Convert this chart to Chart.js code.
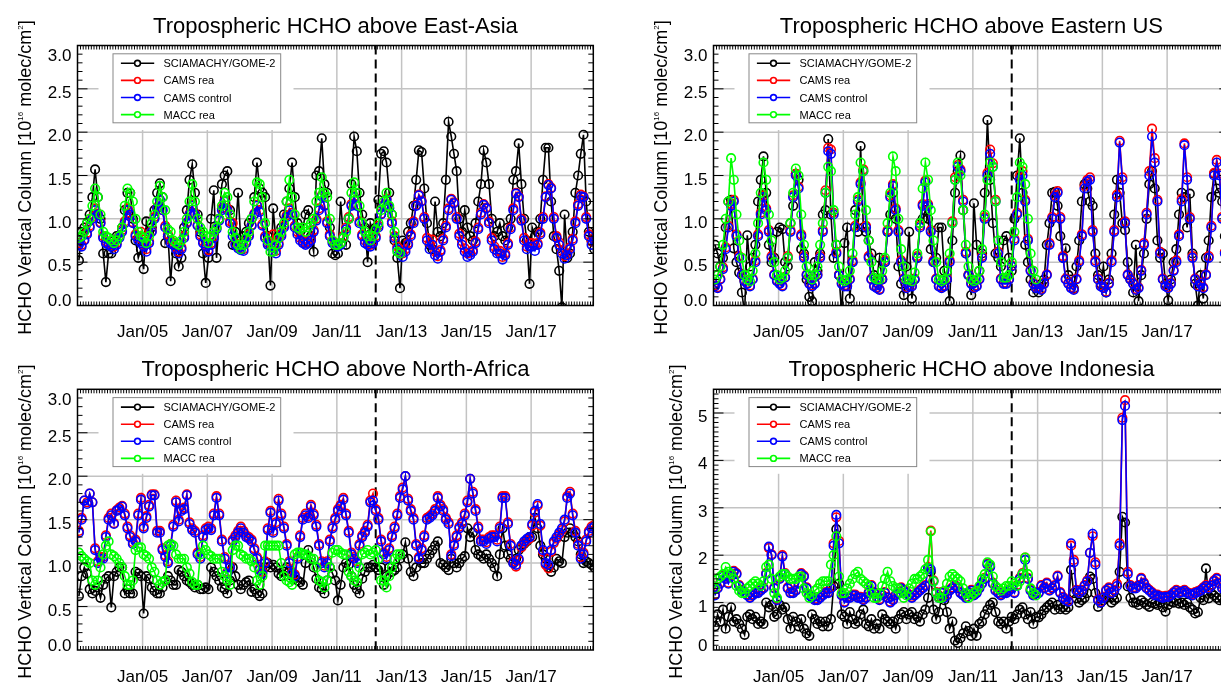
<!DOCTYPE html>
<html><head><meta charset="utf-8">
<script src="https://cdn.jsdelivr.net/npm/chart.js@4.4.1/dist/chart.umd.min.js"></script>
<style>
html,body{margin:0;padding:0;background:#fff;width:1221px;height:682px;overflow:hidden;position:relative;}
canvas{position:absolute;}
</style></head><body>
<canvas id="cEA" width="610" height="341" style="left:0;top:0"></canvas>
<canvas id="cUS" width="640" height="341" style="left:610px;top:0"></canvas>
<canvas id="cNA" width="610" height="341" style="left:0;top:341px"></canvas>
<canvas id="cID" width="640" height="341" style="left:610px;top:341px"></canvas>
<script>
// ---------- categories / ticks ----------
const startYear = 2003, nYears = 16;
const months = [];
for (let y = 0; y < nYears; y++) for (let m = 0; m < 12; m++) months.push(startYear + y + (m + 0.4) / 12);
const xTickYears = [2005, 2007, 2009, 2011, 2013, 2015, 2017];
const xTickLabels = ['Jan/05', 'Jan/07', 'Jan/09', 'Jan/11', 'Jan/13', 'Jan/15', 'Jan/17'];
const yTicks3 = [0, 0.5, 1, 1.5, 2, 2.5, 3];
const yTickLabels3 = ['0.0', '0.5', '1.0', '1.5', '2.0', '2.5', '3.0'];
const yTicks5 = [0, 1, 2, 3, 4, 5];
const yTickLabels5 = ['0', '1', '2', '3', '4', '5'];
const sciamachyEnd = 2012.2;
const seriesNames = ['SCIAMACHY/GOME-2', 'CAMS rea', 'CAMS control', 'MACC rea'];
const seriesColors = ['#000000', '#ff0000', '#0000ff', '#00ff00'];

// ---------- East-Asia ----------
const eaSat = [
0.52,0.85,0.9,0.95,1.05,1.25,1.57,1.25,1.0,0.6,0.27,0.6,
0.6,0.75,0.8,0.8,0.9,1.1,1.3,1.3,1.0,0.75,0.55,0.65,
0.42,0.97,0.85,0.9,1.1,1.3,1.41,1.25,0.72,0.8,0.28,0.7,
0.6,0.45,0.55,0.9,1.1,1.45,1.63,1.3,1.05,0.85,0.6,0.26,
0.55,1.0,1.33,0.55,1.0,1.4,1.5,1.55,1.1,0.7,0.85,1.3,
0.75,0.8,0.85,0.95,1.0,1.25,1.65,1.35,1.3,1.25,0.8,0.23,
1.12,0.75,0.8,0.9,1.05,1.2,1.35,1.65,1.25,0.95,0.85,0.9,
1.05,1.1,0.8,0.62,1.5,1.55,1.93,1.4,1.3,0.9,0.6,0.58,
0.6,1.2,0.8,0.7,1.0,1.4,1.95,1.78,1.3,1.05,0.9,0.5,
0.95,0.85,0.9,1.22,1.75,1.78,1.65,1.3,1.05,0.75,0.55,0.2,
0.75,0.72,0.85,0.95,1.15,1.45,1.79,1.77,1.35,0.95,0.7,0.65,
1.2,0.85,0.8,0.95,1.45,2.12,1.95,1.75,1.55,1.0,0.85,1.1,
0.9,0.8,0.75,0.95,1.2,1.4,1.79,1.65,1.4,1.0,0.8,0.85,
0.95,0.8,0.75,0.9,1.0,1.45,1.55,1.87,1.4,1.0,0.75,0.25,
0.9,0.8,0.85,1.0,1.45,1.82,1.82,1.2,0.8,0.65,0.4,-0.02,
1.05,0.55,0.6,0.85,1.3,1.5,1.75,1.97,1.2,0.85,0.75,0.65];
const eaRea = [
0.72,0.7,0.76,0.84,0.92,1.02,1.12,1.06,0.96,0.8,0.74,0.72,
0.7,0.68,0.72,0.8,0.87,0.97,1.12,1.07,0.96,0.82,0.78,0.85,
0.7,0.65,0.74,0.86,1.02,1.13,1.22,1.1,0.92,0.82,0.75,0.72,
0.67,0.62,0.67,0.8,0.96,1.06,1.16,1.06,0.93,0.82,0.74,0.7,
0.64,0.72,0.8,0.9,1.0,1.12,1.21,1.12,0.97,0.95,0.72,0.68,
0.66,0.65,0.74,0.82,0.93,1.06,1.16,1.1,0.94,0.8,0.72,0.7,
0.82,0.63,0.72,0.82,0.92,1.04,1.12,1.07,0.92,0.85,0.78,0.74,
0.72,0.74,0.77,0.87,1.0,1.12,1.27,1.16,0.97,0.82,0.74,0.72,
0.7,0.72,0.8,0.9,1.02,1.17,1.26,1.16,0.97,0.82,0.75,0.72,
0.7,0.74,0.8,0.92,1.06,1.16,1.23,1.13,0.97,0.8,0.68,0.63,
0.6,0.65,0.72,0.82,0.97,1.16,1.28,1.21,1.02,0.78,0.72,0.76,
0.62,0.57,0.64,0.77,0.92,1.12,1.23,1.19,1.02,0.83,0.74,0.66,
0.6,0.61,0.64,0.74,0.9,1.07,1.17,1.13,0.97,0.78,0.68,0.63,
0.63,0.56,0.6,0.72,0.9,1.12,1.3,1.26,1.0,0.78,0.68,0.72,
0.72,0.7,0.72,0.84,1.02,1.26,1.4,1.36,1.02,0.8,0.73,0.63,
0.57,0.6,0.67,0.77,0.97,1.17,1.28,1.26,1.02,0.82,0.74,0.78];
const eaCtl = [
0.7,0.68,0.75,0.82,0.9,1.0,1.1,1.05,0.95,0.78,0.72,0.7,
0.68,0.65,0.7,0.78,0.85,0.95,1.1,1.05,0.95,0.8,0.75,0.72,
0.68,0.62,0.72,0.85,1.0,1.12,1.22,1.1,0.9,0.8,0.72,0.7,
0.65,0.6,0.65,0.78,0.95,1.05,1.15,1.05,0.92,0.8,0.72,0.68,
0.62,0.7,0.78,0.88,0.98,1.1,1.2,1.1,0.95,0.8,0.7,0.66,
0.64,0.63,0.72,0.8,0.92,1.05,1.15,1.08,0.92,0.78,0.7,0.68,
0.62,0.6,0.7,0.8,0.9,1.02,1.1,1.05,0.9,0.82,0.75,0.72,
0.7,0.72,0.75,0.85,0.98,1.1,1.26,1.15,0.95,0.8,0.72,0.7,
0.68,0.7,0.78,0.88,1.0,1.15,1.25,1.15,0.95,0.8,0.72,0.7,
0.68,0.72,0.78,0.9,1.05,1.15,1.22,1.12,0.95,0.78,0.65,0.6,
0.56,0.62,0.7,0.8,0.95,1.15,1.27,1.2,1.0,0.75,0.65,0.7,
0.58,0.54,0.62,0.75,0.9,1.1,1.22,1.18,1.0,0.8,0.7,0.62,
0.56,0.58,0.62,0.72,0.88,1.05,1.16,1.12,0.95,0.75,0.65,0.6,
0.6,0.53,0.58,0.7,0.88,1.1,1.29,1.25,0.98,0.75,0.65,0.68,
0.68,0.63,0.7,0.82,1.0,1.25,1.39,1.35,1.0,0.78,0.7,0.6,
0.54,0.58,0.65,0.75,0.95,1.15,1.26,1.25,1.0,0.8,0.7,0.75];
const eaMacc = [
0.78,0.8,0.85,0.95,1.0,1.15,1.35,1.25,1.05,0.85,0.8,0.78,
0.75,0.72,0.75,0.8,0.9,1.15,1.35,1.3,1.2,1.0,0.85,0.8,
0.78,0.72,0.8,0.95,1.05,1.2,1.38,1.25,1.1,0.88,0.85,0.75,
0.72,0.7,0.75,0.85,1.0,1.2,1.4,1.2,1.0,0.9,0.85,0.8,
0.72,0.8,0.85,0.9,1.0,1.15,1.3,1.25,1.05,0.85,0.78,0.7,
0.65,0.7,0.78,0.85,1.0,1.2,1.42,1.4,1.25,0.95,0.75,0.62,
0.62,0.7,0.78,0.85,0.95,1.2,1.45,1.25,1.05,0.9,0.88,0.9,
0.85,0.9,0.95,1.0,1.2,1.3,1.48,1.3,1.25,1.0,0.75,0.7,
0.7,0.72,0.78,0.85,1.0,1.3,1.42,1.3,1.15,0.95,0.85,0.8,
0.75,0.8,0.88,0.95,1.1,1.2,1.3,1.15,1.05,0.85,0.62,0.6];

// ---------- Eastern US ----------
const usSat = [
0.7,0.6,0.45,0.55,0.9,1.2,1.22,0.66,0.5,0.38,0.15,-0.1,
0.81,0.45,0.55,0.7,1.2,1.45,1.72,1.3,0.7,0.5,0.55,0.85,
0.9,0.88,0.5,0.45,0.95,1.15,1.52,1.45,0.65,0.6,0.3,0.1,
0.05,0.5,0.4,0.6,1.05,1.1,1.92,1.05,0.55,0.7,0.35,-0.1,
0.72,0.9,0.08,0.5,1.1,0.85,1.84,0.9,0.85,0.75,0.6,0.35,
0.3,0.55,0.3,0.5,0.85,1.05,1.3,1.0,0.45,0.25,0.12,0.45,
0.85,0.08,0.3,0.55,0.95,1.0,1.1,1.0,0.65,0.5,0.55,0.9,
0.9,0.4,0.3,0.05,0.75,1.3,1.55,1.73,1.1,0.6,0.35,0.12,
1.18,0.7,0.4,0.6,1.3,2.14,1.45,0.95,0.6,0.55,0.45,0.75,
0.8,0.55,0.4,1.0,1.5,1.93,1.3,0.7,0.5,0.3,0.15,0.2,
0.15,0.25,0.3,0.7,0.95,1.3,1.31,1.15,0.8,0.55,0.66,0.35,
0.3,0.2,0.45,0.75,1.2,1.4,1.35,1.2,1.15,0.6,0.35,0.25,
0.45,0.15,0.3,0.6,1.05,1.45,1.3,0.95,0.87,0.5,0.3,0.15,
0.7,0.05,0.35,0.6,1.0,1.4,1.55,1.35,0.75,0.55,0.6,0.25,
0.06,0.3,0.5,0.65,1.05,1.3,1.25,0.9,1.29,0.6,0.25,0.0,
0.35,0.08,0.55,0.75,1.25,1.52,1.35,1.3,1.2,0.8,0.5,0.4];
const usRea = [
0.23,0.21,0.31,0.44,0.67,0.92,1.17,1.22,0.82,0.57,0.36,0.29,
0.26,0.23,0.31,0.52,0.82,1.07,1.27,1.12,0.87,0.57,0.36,0.29,
0.26,0.23,0.33,0.57,0.87,1.27,1.52,1.37,0.82,0.57,0.36,0.26,
0.23,0.26,0.36,0.57,0.87,1.33,1.82,1.8,1.07,0.62,0.36,0.26,
0.23,0.23,0.31,0.52,0.92,1.22,1.42,1.57,0.92,0.57,0.31,0.23,
0.21,0.19,0.31,0.52,0.87,1.27,1.4,1.12,0.87,0.52,0.31,0.21,
0.23,0.23,0.31,0.57,0.92,1.17,1.44,1.17,0.87,0.52,0.31,0.23,
0.21,0.23,0.31,0.52,0.97,1.48,1.62,1.57,1.22,0.62,0.36,0.26,
0.21,0.23,0.31,0.57,1.02,1.53,1.8,1.64,1.22,0.62,0.31,0.26,
0.26,0.31,0.46,0.77,1.07,1.5,1.55,1.22,0.77,0.41,0.26,0.21,
0.21,0.19,0.26,0.36,0.72,1.02,1.27,1.32,1.02,0.57,0.31,0.26,
0.21,0.19,0.31,0.52,0.82,1.38,1.45,1.48,0.87,0.52,0.31,0.23,
0.21,0.16,0.26,0.52,0.87,1.28,1.9,1.48,0.97,0.36,0.31,0.26,
0.19,0.21,0.41,0.72,1.07,1.55,2.04,1.7,1.22,0.62,0.31,0.23,
0.21,0.26,0.41,0.52,0.82,1.23,1.87,1.48,1.02,0.57,0.31,0.23,
0.26,0.21,0.36,0.57,0.92,1.53,1.68,1.52,1.02,0.62,0.36,0.26];
const usCtl = [
0.22,0.2,0.3,0.42,0.65,0.9,1.15,1.2,0.8,0.55,0.35,0.28,
0.25,0.22,0.3,0.5,0.8,1.05,1.25,1.1,0.85,0.55,0.35,0.28,
0.25,0.22,0.32,0.55,0.85,1.25,1.5,1.35,0.8,0.55,0.35,0.25,
0.22,0.25,0.35,0.55,0.85,1.3,1.78,1.75,1.05,0.6,0.35,0.25,
0.22,0.22,0.3,0.5,0.9,1.2,1.4,1.55,0.9,0.55,0.3,0.22,
0.2,0.18,0.3,0.5,0.85,1.25,1.38,1.1,0.85,0.5,0.3,0.2,
0.22,0.22,0.3,0.55,0.9,1.15,1.42,1.15,0.85,0.5,0.3,0.22,
0.2,0.22,0.3,0.5,0.95,1.45,1.6,1.55,1.2,0.6,0.35,0.25,
0.2,0.22,0.3,0.55,1.0,1.5,1.75,1.6,1.2,0.6,0.3,0.25,
0.25,0.3,0.45,0.75,1.05,1.45,1.5,1.2,0.75,0.4,0.25,0.2,
0.2,0.18,0.25,0.35,0.7,1.0,1.25,1.3,1.0,0.55,0.3,0.25,
0.2,0.18,0.3,0.5,0.8,1.35,1.43,1.45,0.85,0.5,0.3,0.22,
0.2,0.15,0.25,0.5,0.85,1.25,1.88,1.45,0.95,0.35,0.3,0.25,
0.18,0.2,0.4,0.7,1.05,1.5,1.95,1.65,1.2,0.6,0.3,0.22,
0.2,0.25,0.4,0.5,0.8,1.2,1.85,1.45,1.0,0.55,0.3,0.22,
0.25,0.2,0.35,0.55,0.9,1.5,1.65,1.5,1.0,0.6,0.35,0.25];
const usMacc = [
0.3,0.35,0.45,0.7,1.0,1.2,1.7,1.45,1.05,0.75,0.55,0.35,
0.3,0.28,0.4,0.6,0.95,1.3,1.65,1.45,1.05,0.75,0.5,0.35,
0.3,0.32,0.4,0.55,0.95,1.3,1.58,1.5,1.05,0.7,0.45,0.35,
0.3,0.35,0.45,0.7,0.95,1.3,1.6,1.55,1.1,0.7,0.45,0.3,
0.28,0.3,0.4,0.6,1.05,1.25,1.65,1.55,1.1,0.75,0.5,0.32,
0.3,0.3,0.4,0.55,0.95,1.3,1.72,1.55,1.0,0.65,0.45,0.3,
0.3,0.28,0.38,0.6,0.95,1.35,1.65,1.45,1.1,0.75,0.5,0.3,
0.28,0.3,0.4,0.6,0.95,1.45,1.65,1.5,1.1,0.7,0.45,0.3,
0.28,0.3,0.4,0.65,1.05,1.45,1.65,1.6,1.2,0.75,0.5,0.32,
0.32,0.35,0.5,0.85,1.25,1.65,1.6,1.4,1.0,0.6,0.4,0.3];

// ---------- North-Africa ----------
const naSat = [
0.62,0.85,0.95,0.88,0.7,0.65,0.68,0.72,0.6,0.75,0.82,0.85,
0.49,0.85,0.9,0.95,0.95,0.65,0.7,0.65,0.65,0.9,0.88,0.85,
0.42,0.85,0.82,0.72,0.68,0.65,0.65,0.72,0.8,0.85,0.8,0.75,
0.75,0.92,0.9,0.85,0.8,0.78,0.75,0.72,0.75,0.7,0.7,0.72,
0.7,0.95,0.9,0.85,0.8,0.72,0.7,0.65,0.8,0.95,0.85,0.75,
0.7,0.75,0.78,0.8,0.67,0.7,0.65,0.62,0.65,0.95,1.0,0.95,
0.98,0.95,0.88,0.85,0.9,0.95,0.9,0.85,0.82,0.8,0.78,0.75,
1.0,1.15,1.05,0.95,0.82,0.72,0.7,0.65,0.8,0.95,0.88,0.8,
0.57,0.75,0.95,1.0,0.98,0.85,0.75,0.7,0.65,0.82,0.9,0.95,
0.95,0.98,0.95,0.92,0.95,0.75,0.85,0.95,0.9,0.92,0.95,1.05,
1.1,1.24,1.05,0.9,0.85,0.95,1.05,1.0,1.0,1.05,1.1,1.15,
1.2,1.25,1.0,0.98,0.95,0.92,1.05,1.0,0.95,1.0,1.05,1.08,
1.4,1.3,1.35,1.15,1.1,1.08,1.05,1.1,1.05,1.0,0.95,0.85,
1.1,1.4,1.2,1.1,1.05,1.0,1.05,1.15,1.2,1.22,1.25,1.3,
1.3,1.52,1.4,1.2,1.1,1.05,0.95,0.9,0.95,1.05,1.02,1.0,
1.3,1.35,1.4,1.35,1.3,1.25,1.1,1.0,1.02,1.0,0.98,0.95];
const naRea = [
1.37,1.52,1.72,1.7,1.8,1.7,1.17,1.02,1.07,1.07,1.32,1.52,
1.57,1.46,1.61,1.64,1.66,1.57,1.42,1.32,1.24,1.27,1.57,1.75,
1.42,1.54,1.67,1.79,1.79,1.37,1.37,1.17,1.09,1.02,1.22,1.44,
1.72,1.5,1.62,1.64,1.79,1.47,1.4,1.37,1.12,1.07,1.32,1.4,
1.42,1.4,1.57,1.77,1.57,1.27,1.07,0.9,0.97,1.27,1.32,1.37,
1.42,1.37,1.32,1.3,1.27,1.17,1.07,0.94,0.9,1.02,1.4,1.6,
1.37,1.47,1.74,1.57,1.42,1.22,1.02,0.9,0.87,1.07,1.32,1.52,
1.57,1.54,1.67,1.57,1.44,1.22,1.02,0.97,1.02,1.27,1.42,1.52,
1.62,1.67,1.75,1.57,1.37,1.12,1.07,1.02,1.22,1.32,1.37,1.44,
1.72,1.8,1.62,1.52,1.27,1.12,1.07,1.17,1.32,1.42,1.57,1.77,
1.87,2.0,1.74,1.62,1.52,1.22,1.07,1.17,1.32,1.52,1.54,1.57,
1.62,1.77,1.67,1.62,1.52,1.47,1.1,1.22,1.32,1.42,1.47,1.57,
1.72,1.97,1.82,1.62,1.42,1.27,1.27,1.24,1.3,1.32,1.32,1.27,
1.42,1.77,1.77,1.47,1.22,1.02,0.96,1.03,1.18,1.23,1.26,1.28,
1.43,1.58,1.66,1.43,1.13,0.98,0.94,1.13,1.23,1.28,1.33,1.38,
1.48,1.77,1.82,1.57,1.37,1.22,1.07,1.12,1.27,1.37,1.42,1.44];
const naCtl = [
1.35,1.5,1.72,1.68,1.8,1.7,1.15,1.0,1.05,1.05,1.3,1.5,
1.55,1.45,1.6,1.62,1.65,1.55,1.4,1.3,1.22,1.25,1.55,1.73,
1.4,1.52,1.65,1.78,1.78,1.35,1.35,1.15,1.07,1.0,1.2,1.42,
1.7,1.48,1.6,1.62,1.78,1.45,1.38,1.35,1.1,1.05,1.3,1.38,
1.4,1.38,1.55,1.75,1.55,1.25,1.05,0.88,0.95,1.25,1.3,1.35,
1.4,1.35,1.3,1.28,1.25,1.15,1.05,0.92,0.88,1.0,1.38,1.58,
1.35,1.45,1.72,1.55,1.4,1.2,1.0,0.88,0.85,1.05,1.3,1.5,
1.55,1.52,1.65,1.55,1.42,1.2,1.0,0.95,1.0,1.25,1.4,1.5,
1.6,1.65,1.73,1.55,1.35,1.1,1.05,1.0,1.2,1.3,1.35,1.42,
1.7,1.72,1.6,1.5,1.25,1.1,1.05,1.15,1.3,1.4,1.55,1.75,
1.85,2.0,1.72,1.6,1.5,1.2,1.05,1.15,1.3,1.5,1.52,1.55,
1.6,1.75,1.65,1.6,1.5,1.45,1.08,1.2,1.3,1.4,1.45,1.55,
1.7,1.97,1.8,1.6,1.4,1.25,1.25,1.22,1.28,1.3,1.3,1.25,
1.4,1.75,1.75,1.45,1.2,1.0,0.98,1.05,1.2,1.25,1.28,1.3,
1.45,1.6,1.68,1.45,1.15,1.0,0.98,1.15,1.25,1.3,1.35,1.4,
1.5,1.75,1.8,1.55,1.35,1.2,1.05,1.1,1.25,1.35,1.4,1.42];
const naMacc = [
1.12,1.08,1.05,1.02,1.0,0.8,0.75,0.8,0.95,1.1,1.2,1.25,
1.1,1.08,1.05,1.0,0.95,0.85,0.75,0.75,0.8,1.15,1.18,1.18,
1.1,1.08,1.05,0.95,0.9,0.8,0.75,0.78,0.8,1.2,1.22,1.2,
1.1,1.05,1.05,1.05,0.95,0.88,0.78,0.75,0.75,1.1,1.2,1.15,
1.1,1.08,1.05,1.05,1.05,0.9,0.85,0.8,0.75,1.15,1.2,1.2,
1.1,1.08,1.05,1.05,1.02,0.95,0.8,0.75,0.85,1.2,1.2,1.2,
1.2,1.2,1.2,1.0,0.85,0.8,0.78,0.75,1.1,1.12,1.12,1.1,
1.1,1.08,1.05,1.05,0.95,0.8,0.78,0.72,0.8,0.95,1.12,1.15,
1.15,1.12,1.1,1.1,0.9,0.85,0.8,0.78,0.95,1.1,1.12,1.15,
1.1,1.12,1.15,1.05,0.8,0.8,0.72,0.85,0.95,1.05,1.1,1.1];

// ---------- Indonesia ----------
const idSat = [
0.5,0.75,0.6,0.85,0.45,0.7,0.9,0.6,0.65,0.55,0.45,0.32,
0.7,0.75,0.65,0.7,0.55,0.6,0.55,1.0,0.9,0.95,0.7,0.75,
0.95,0.85,0.9,0.65,0.45,0.7,0.6,0.5,0.65,0.45,0.35,0.3,
0.75,0.65,0.55,0.6,0.5,0.6,0.5,0.65,1.35,2.55,1.4,0.75,
0.7,0.55,0.8,0.65,0.55,0.6,0.75,0.85,0.55,0.5,0.65,0.45,
0.55,0.45,0.75,0.65,0.6,0.55,0.6,0.45,0.65,0.75,0.8,0.65,
0.75,0.8,0.65,0.7,0.6,0.75,0.85,1.1,1.65,0.85,0.65,0.8,
1.1,1.05,0.8,0.45,0.6,0.2,0.15,0.25,0.35,0.5,0.4,0.3,
0.45,0.3,0.55,0.6,0.75,0.85,0.95,1.0,0.8,0.6,0.55,0.6,
0.45,0.6,0.7,0.65,0.75,0.85,0.9,0.75,0.65,0.8,0.55,0.7,
0.69,0.75,0.84,0.9,0.95,1.0,0.85,0.95,0.86,0.9,0.85,0.9,
1.69,1.2,1.09,1.0,1.05,1.1,1.2,1.55,1.5,1.2,0.91,1.0,
1.05,1.1,1.12,1.0,1.05,1.1,1.65,2.81,2.69,1.34,1.1,1.0,
1.0,0.95,1.05,1.0,0.95,0.91,1.0,0.98,0.95,1.0,0.9,0.81,
0.95,1.02,1.0,1.05,0.98,1.0,0.95,1.0,0.9,0.85,0.77,0.8,
1.1,1.05,1.72,1.09,1.2,1.15,1.1,1.05,1.1,1.0,1.05,1.1];
const idRea = [
1.17,1.32,1.42,1.57,1.52,1.42,1.57,1.67,1.62,1.37,1.27,1.22,
1.17,1.12,1.17,1.22,1.22,1.27,1.32,1.62,2.15,2.02,1.32,1.07,
1.52,2.0,1.62,1.32,1.22,1.22,1.27,1.42,1.62,1.57,1.32,1.17,
1.12,1.07,1.07,1.12,1.17,1.22,1.22,1.32,2.25,2.8,2.3,1.17,
1.02,1.12,1.12,1.17,1.17,1.12,1.12,1.07,1.12,1.22,1.37,1.22,
1.12,1.07,1.17,1.22,1.12,1.02,1.07,1.17,1.22,1.32,1.27,1.22,
1.17,1.12,1.17,1.22,1.27,1.32,1.37,1.75,2.52,1.47,1.22,1.12,
1.22,1.12,1.17,1.27,1.32,1.37,1.32,1.22,1.17,1.12,1.22,1.27,
1.17,1.22,1.32,1.42,1.52,1.82,1.77,1.42,1.27,1.22,1.17,1.22,
1.22,1.27,1.32,1.22,1.37,1.52,1.62,1.95,1.52,1.27,1.17,1.22,
1.22,1.37,1.32,1.42,1.27,1.32,1.37,1.57,1.22,1.12,1.07,1.04,
2.2,1.9,1.27,1.22,1.27,1.37,1.47,2.05,2.4,1.85,1.07,1.02,
1.12,1.27,1.32,1.22,1.27,1.4,2.25,4.9,5.27,1.65,1.37,1.32,
1.32,1.37,1.52,1.42,1.32,1.27,1.22,1.17,1.17,1.14,1.12,1.14,
1.14,1.17,1.22,1.27,1.22,1.24,1.27,1.22,1.2,1.17,1.22,1.24,
1.27,1.32,1.37,1.32,1.37,1.47,1.52,1.42,1.32,1.27,1.32,1.37];
const idCtl = [
1.15,1.3,1.4,1.55,1.5,1.4,1.55,1.65,1.6,1.35,1.25,1.2,
1.15,1.1,1.15,1.2,1.2,1.25,1.3,1.6,2.18,2.0,1.3,1.05,
1.5,1.97,1.6,1.3,1.2,1.2,1.25,1.4,1.6,1.55,1.3,1.15,
1.1,1.05,1.05,1.1,1.15,1.2,1.2,1.3,2.2,2.85,2.25,1.15,
1.0,1.1,1.1,1.15,1.15,1.1,1.1,1.05,1.1,1.2,1.35,1.2,
1.1,1.05,1.15,1.2,1.1,1.0,1.05,1.15,1.2,1.3,1.25,1.2,
1.15,1.1,1.15,1.2,1.25,1.3,1.35,1.72,1.7,1.45,1.2,1.1,
1.2,1.1,1.15,1.25,1.3,1.35,1.3,1.2,1.15,1.1,1.2,1.25,
1.15,1.2,1.3,1.4,1.5,1.8,1.75,1.4,1.25,1.2,1.15,1.2,
1.2,1.25,1.3,1.2,1.35,1.5,1.6,1.9,1.5,1.25,1.15,1.2,
1.2,1.35,1.3,1.4,1.25,1.3,1.35,1.55,1.2,1.1,1.05,1.02,
2.25,1.85,1.25,1.2,1.25,1.35,1.45,2.05,2.45,1.8,1.05,1.0,
1.1,1.25,1.3,1.2,1.25,1.35,2.2,4.85,5.15,1.6,1.35,1.3,
1.3,1.35,1.5,1.4,1.3,1.25,1.2,1.15,1.15,1.12,1.1,1.12,
1.12,1.15,1.2,1.25,1.2,1.22,1.25,1.2,1.18,1.15,1.2,1.22,
1.25,1.3,1.35,1.3,1.35,1.45,1.5,1.4,1.3,1.25,1.3,1.35];
const idMacc = [
1.3,1.5,1.55,1.6,1.75,1.65,1.6,1.5,1.35,1.25,1.2,1.2,
1.3,1.35,1.4,1.45,1.4,1.35,1.45,1.75,1.8,1.5,1.2,1.1,
1.55,1.6,1.6,1.55,1.5,1.5,1.5,1.55,1.55,1.3,1.2,1.1,
1.15,1.25,1.3,1.4,1.45,1.45,1.45,1.8,2.0,2.4,1.55,1.2,
1.2,1.3,1.4,1.5,1.6,1.65,1.5,1.45,1.4,1.35,1.2,1.1,
1.1,1.2,1.35,1.5,1.65,1.45,1.35,1.3,1.3,1.2,1.1,1.15,
1.3,1.4,1.5,1.5,1.55,1.6,1.7,1.9,2.5,1.45,1.2,1.1,
1.1,1.25,1.4,1.55,1.6,1.55,1.5,1.45,1.3,1.2,1.1,1.15,
1.2,1.25,1.35,1.5,1.6,1.85,1.8,1.55,1.35,1.3,1.25,1.3,
1.35,1.35,1.45,1.4,1.35,1.45,1.6,1.95,1.6,1.3,1.2,1.15];

// ---------- drawing helpers ----------
const FONT = '"Liberation Sans", Arial, Helvetica, sans-serif';
const xMin = 2002.99, xMax = 2018.92;

function seg(ctx, x1, y1, x2, y2) { ctx.beginPath(); ctx.moveTo(x1, y1); ctx.lineTo(x2, y2); ctx.stroke(); }

const hchoPlugin = {
  id: 'hcho',
  beforeDatasetsDraw(chart, args, o) {
    const { ctx, chartArea: a, scales: { x, y } } = chart;
    ctx.save();
    ctx.strokeStyle = '#c3c3c3'; ctx.lineWidth = 1.5;
    o.yGrid.forEach(v => { const py = y.getPixelForValue(v); seg(ctx, a.left, py, a.right, py); });
    xTickYears.forEach(v => { const px = x.getPixelForValue(v); if (px < a.right - 1) seg(ctx, px, a.top, px, a.bottom); });
    const dx = x.getPixelForValue(sciamachyEnd);
    ctx.strokeStyle = '#000'; ctx.lineWidth = 2; ctx.setLineDash([9, 5]);
    seg(ctx, dx, a.top, dx, a.bottom);
    ctx.setLineDash([]);
    ctx.restore();
  },
  afterDatasetsDraw(chart, args, o) {
    const { ctx, chartArea: a, scales: { x, y } } = chart;
    ctx.save();
    // legend
    ctx.fillStyle = '#fff';
    ctx.fillRect(a.left + 21, a.top, 195, 84.5);
    const bx = a.left + 35, by = a.top + 7.8, bw = 167.7, bh = 69;
    ctx.strokeStyle = '#888'; ctx.lineWidth = 1;
    ctx.strokeRect(bx + 0.5, by + 0.5, bw, bh);
    ctx.font = '11px ' + FONT; ctx.textAlign = 'left'; ctx.textBaseline = 'alphabetic';
    seriesNames.forEach((name, i) => {
      const ry = by + 10 + i * 17.1;
      ctx.strokeStyle = seriesColors[i]; ctx.lineWidth = 1.6;
      seg(ctx, bx + 8.4, ry, bx + 41.7, ry);
      ctx.fillStyle = '#fff';
      ctx.beginPath(); ctx.arc(bx + 25, ry, 2.9, 0, Math.PI * 2); ctx.fill(); ctx.stroke();
      ctx.fillStyle = '#000';
      ctx.fillText(name, bx + 51, ry + 4);
    });
    // frame
    ctx.strokeStyle = '#000'; ctx.lineWidth = 1.5;
    ctx.strokeRect(a.left, a.top, a.right - a.left, a.bottom - a.top);
    ctx.lineWidth = 1;
    for (let k = 1; k < nYears * 12; k++) {
      const px = x.getPixelForValue(startYear + k / 12);
      if (px >= a.right) break;
      seg(ctx, px, a.bottom, px, a.bottom - 4);
      seg(ctx, px, a.top, px, a.top + 4);
    }
    const nMinor = Math.round(o.yMax / 0.1);
    for (let k = 1; k < nMinor; k++) {
      const py = y.getPixelForValue(k * 0.1);
      const len = (k % o.majorEvery === 0) ? 10 : 5;
      seg(ctx, a.left, py, a.left + len, py);
      seg(ctx, a.right, py, a.right - len, py);
    }
    ctx.fillStyle = '#000'; ctx.font = '17px ' + FONT; ctx.textAlign = 'right';
    o.yTicks.forEach((v, i) => {
      const py = y.getPixelForValue(v);
      let off = 9;
      if (v === o.yMax) off = 15.5;
      if (v === 0) off = 0.5;
      ctx.fillText(o.yLabels[i], a.left - 6, py + off);
    });
    ctx.textAlign = 'center';
    xTickYears.forEach((v, i) => {
      const px = x.getPixelForValue(v);
      if (px < a.right) ctx.fillText(xTickLabels[i], px, a.bottom + 31.8);
    });
    ctx.font = '22px ' + FONT;
    ctx.fillText(o.title, (a.left + a.right) / 2, a.top - 13);
    const parts = [['HCHO Vertical Column [10', 18, 0], ['16', 8, -8], [' molec/cm', 18, 0], ['2', 8, -8], [']', 18, 0]];
    let w = 0;
    parts.forEach(p => { ctx.font = p[1] + 'px ' + FONT; w += ctx.measureText(p[0]).width; });
    ctx.translate(a.left - o.yTitleGap, (a.top + a.bottom) / 2 + 2);
    ctx.rotate(-Math.PI / 2);
    ctx.textAlign = 'left';
    let cx = -w / 2;
    parts.forEach(p => {
      ctx.font = p[1] + 'px ' + FONT;
      ctx.fillText(p[0], cx, p[2]);
      cx += ctx.measureText(p[0]).width;
    });
    ctx.restore();
  }
};

function toPts(arr) { return arr.map((v, i) => ({ x: months[i], y: v })); }

function makeChart(id, p) {
  const series = [p.sat, p.rea, p.ctl, p.macc];
  const orders = [4, 3, 2, 1];
  const datasets = series.map((s, i) => ({
    label: seriesNames[i],
    data: toPts(s),
    borderColor: seriesColors[i],
    pointBorderColor: seriesColors[i],
    pointBackgroundColor: 'rgba(0,0,0,0)',
    borderWidth: 1.6,
    pointRadius: 4.3,
    pointHoverRadius: 4.3,
    pointBorderWidth: 1.6,
    fill: false,
    tension: 0,
    clip: 0,
    order: orders[i]
  }));
  new Chart(document.getElementById(id), {
    type: 'line',
    data: { datasets },
    options: {
      responsive: false,
      animation: false,
      devicePixelRatio: 1,
      events: [],
      layout: { padding: p.pad },
      scales: {
        x: { type: 'linear', min: xMin, max: xMax, display: false },
        y: { type: 'linear', min: 0, max: p.yMax, display: false }
      },
      plugins: {
        legend: { display: false },
        tooltip: { enabled: false },
        title: { display: false },
        hcho: {
          title: p.title, yMax: p.yMax, yGrid: p.yGrid, yTicks: p.yTicks, yLabels: p.yLabels,
          majorEvery: p.majorEvery, yTitleGap: p.yTitleGap
        }
      }
    },
    plugins: [hchoPlugin]
  });
}

const padTL = { left: 77.5, top: 45.5, right: 16.7, bottom: 35.5 };
const padTR = { left: 103.5, top: 45.5, right: 20.7, bottom: 35.5 };
const padBL = { left: 77.5, top: 48.3, right: 16.7, bottom: 32 };
const padBR = { left: 103.5, top: 48.3, right: 20.7, bottom: 32 };

makeChart('cEA', { title: 'Tropospheric HCHO above East-Asia', sat: eaSat, rea: eaRea, ctl: eaCtl, macc: eaMacc,
  yMax: 3, yGrid: [0.5, 1, 1.5, 2, 2.5], yTicks: yTicks3, yLabels: yTickLabels3, majorEvery: 5, yTitleGap: 46.6, pad: padTL });
makeChart('cUS', { title: 'Tropospheric HCHO above Eastern US', sat: usSat, rea: usRea, ctl: usCtl, macc: usMacc,
  yMax: 3, yGrid: [0.5, 1, 1.5, 2, 2.5], yTicks: yTicks3, yLabels: yTickLabels3, majorEvery: 5, yTitleGap: 46.6, pad: padTR });
makeChart('cNA', { title: 'Tropospheric HCHO above North-Africa', sat: naSat, rea: naRea, ctl: naCtl, macc: naMacc,
  yMax: 3, yGrid: [0.5, 1, 1.5, 2, 2.5], yTicks: yTicks3, yLabels: yTickLabels3, majorEvery: 5, yTitleGap: 46.6, pad: padBL });
makeChart('cID', { title: 'Tropospheric HCHO above Indonesia', sat: idSat, rea: idRea, ctl: idCtl, macc: idMacc,
  yMax: 5.5, yGrid: [1, 2, 3, 4, 5], yTicks: yTicks5, yLabels: yTickLabels5, majorEvery: 10, yTitleGap: 31.6, pad: padBR });
</script>
</body></html>
